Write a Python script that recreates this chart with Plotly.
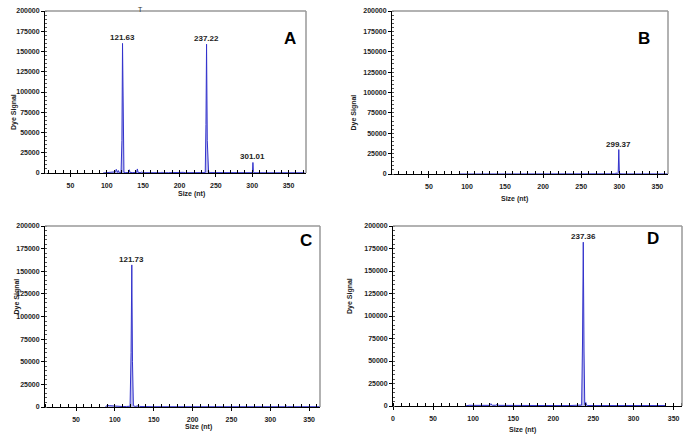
import plotly.graph_objects as go

W, H = 685, 443

# ---------------- data ----------------
a_size = [95, 100, 104, 106, 110, 112, 113, 114, 115, 116, 117, 119.6, 120.8, 121.63, 122.5, 123.6,
          126, 130, 131, 132, 135, 141, 142, 143, 147, 148, 149, 155, 160, 170, 175, 176, 177,
          185, 192, 195, 200, 205, 208, 215, 220, 230, 235.4, 236.4, 237.22, 238.2, 239, 240,
          242, 250, 270, 290, 299.8, 300.4, 301.01, 301.6, 302.4, 310, 330, 350, 372]
a_signal = [0, 300, 900, 300, 500, 1500, 4500, 1200, 600, 3000, 700, 500, 40000, 160000, 30000, 800,
            500, 600, 4000, 700, 500, 600, 5000, 800, 400, 1500, 400, 500, 400, 400, 300, 1300, 300,
            400, 800, 1000, 1000, 800, 400, 300, 300, 300, 500, 60000, 159000, 40000, 3000, 1200,
            500, 400, 300, 300, 400, 2000, 13000, 2000, 300, 300, 300, 300, 300]

b_size = [90, 120, 150, 200, 250, 260, 280, 290, 295, 296, 297, 298.6, 299.37, 300.1, 300.8, 305,
          330, 364]
b_signal = [0, 100, 100, 100, 100, 300, 100, 100, 200, 1500, 300, 2000, 30000, 2000, 200, 100,
            100, 100]

c_size = [88, 90, 93, 96, 100, 110, 115, 119.5, 120.8, 121.73, 122.6, 123.8, 126, 130, 131, 132,
          140, 150, 200, 250, 300, 318, 320, 322, 340, 364]
c_signal = [0, 2000, 1500, 1200, 800, 500, 600, 800, 60000, 157000, 50000, 1500, 600, 700, 1500,
            600, 400, 300, 300, 300, 300, 300, 1500, 300, 300, 300]

d_size = [90, 95, 100, 110, 120, 122, 124, 128, 130, 132, 140, 160, 180, 200, 220, 230, 235.3,
          236.4, 237.36, 238.3, 239.2, 240.5, 241.5, 243, 250, 270, 280, 282, 300, 320, 340]
d_signal = [0, 800, 700, 600, 700, 2500, 800, 800, 1800, 700, 600, 500, 500, 500, 500, 600, 1000,
            70000, 182000, 60000, 1500, 4000, 1000, 500, 500, 500, 1000, 500, 500, 500, 500]

peak_labels = {
    "A": [(121.63, 160000, "121.63"), (237.22, 159000, "237.22"), (301.01, 13000, "301.01")],
    "B": [(299.37, 30000, "299.37")],
    "C": [(121.73, 157000, "121.73")],
    "D": [(237.36, 182000, "237.36")],
}

y_ticks = [0, 25000, 50000, 75000, 100000, 125000, 150000, 175000, 200000]
y_tick_text = ["0", "25000", "50000", "75000", "100000", "125000", "150000", "175000", "200000"]
x_ticks_abc = [50, 100, 150, 200, 250, 300, 350]
x_ticks_d = [0, 50, 100, 150, 200, 250, 300, 350]

# ---------------- layout geometry (pixels) ----------------
panels = {
    "A": dict(x=(45, 306), y=(11, 173), xr=[15, 374], ticks=x_ticks_abc,
              data=(a_size, a_signal), ylab_x=8, xlab_y=194, letter=(290, 27)),
    "B": dict(x=(392, 668), y=(11, 174), xr=[1.5, 364], ticks=x_ticks_abc,
              data=(b_size, b_signal), ylab_x=353, xlab_y=199, letter=(652, 27)),
    "C": dict(x=(45, 320), y=(226, 407), xr=[10, 364], ticks=x_ticks_abc,
              data=(c_size, c_signal), ylab_x=10, xlab_y=433, letter=(306, 240)),
    "D": dict(x=(393, 682), y=(226, 406), xr=[0, 360.5], ticks=x_ticks_d,
              data=(d_size, d_signal), ylab_x=350, xlab_y=436, letter=(661, 239)),
}

FONT = "Liberation Sans, Arial, sans-serif"
LINE = "#3333cc"
FILL = "rgba(110,110,215,0.45)"

fig = go.Figure()
layout = dict(width=W, height=H, margin=dict(l=0, r=0, t=0, b=0, autoexpand=False),
              paper_bgcolor="white", plot_bgcolor="white", showlegend=False,
              font=dict(family=FONT, size=7, color="#222"))
annotations = []
shapes = []

for i, (name, p) in enumerate(panels.items(), start=1):
    sfx = "" if i == 1 else str(i)
    xs, ys = p["data"]
    fig.add_trace(go.Scatter(x=xs, y=ys, mode="lines", line=dict(color=LINE, width=1),
                             fill="tozeroy", fillcolor=FILL,
                             xaxis="x" + sfx, yaxis="y" + sfx, hoverinfo="skip"))
    x0, x1 = p["x"]
    y0, y1 = p["y"]
    layout["xaxis" + sfx] = dict(
        domain=[x0 / W, x1 / W], anchor="y" + sfx, range=p["xr"], automargin=False,
        tickmode="array", tickvals=p["ticks"], ticks="outside", ticklen=3,
        ticklabelstandoff=3,
        tickcolor="#000", showline=True, linecolor="#000", linewidth=1,
        showgrid=False, zeroline=False,
        tickfont=dict(family=FONT, size=7, color="#222", weight="bold"),
        minor=dict(dtick=10, tick0=0, ticks="inside", ticklen=3, tickcolor="#000",
                   showgrid=False),
    )
    layout["yaxis" + sfx] = dict(
        domain=[1 - y1 / H, 1 - y0 / H], anchor="x" + sfx, range=[0, 200000], automargin=False,
        tickmode="array", tickvals=y_ticks, ticktext=y_tick_text, ticks="outside", ticklen=3,
        tickcolor="#000", showline=True, linecolor="#000", linewidth=1,
        showgrid=False, zeroline=False,
        tickfont=dict(family=FONT, size=7, color="#222", weight="bold"),
        minor=dict(dtick=5000, tick0=0, ticks="inside", ticklen=2, tickcolor="#555",
                   showgrid=False),
    )
    xr = "x" + sfx
    yr = "y" + sfx
    # gray frame on top and right
    shapes.append(dict(type="line", xref=xr + " domain", yref=yr + " domain",
                       x0=0, x1=1, y0=1, y1=1, line=dict(color="#999", width=1.5)))
    shapes.append(dict(type="line", xref=xr + " domain", yref=yr + " domain",
                       x0=1, x1=1, y0=0, y1=1, line=dict(color="#999", width=1.5)))
    # axis titles
    annotations.append(dict(text="<b>Dye Signal</b>", xref="paper", yref="paper",
                            x=p["ylab_x"] / W, y=1 - (y0 + y1) / 2 / H, textangle=-90,
                            showarrow=False, font=dict(family=FONT, size=7, color="#222")))
    annotations.append(dict(text="<b>Size (nt)</b>", xref="paper", yref="paper",
                            x=(x0 + x1) / 2 / W, y=1 - p["xlab_y"] / H,
                            showarrow=False, font=dict(family=FONT, size=7, color="#222")))
    # panel letter
    annotations.append(dict(text="<b>%s</b>" % name, xref="paper", yref="paper",
                            x=p["letter"][0] / W, y=1 - p["letter"][1] / H,
                            showarrow=False, font=dict(family=FONT, size=17, color="#000")))
    # peak labels
    for px, py, lab in peak_labels[name]:
        annotations.append(dict(text="<b>%s</b>" % lab, x=px, y=py, xref=xr, yref=yr,
                                yanchor="bottom", yshift=-1, showarrow=False,
                                font=dict(family=FONT, size=8, color="#222")))

annotations.append(dict(text="T", xref="paper", yref="paper", x=136 / W, y=1 - 4 / H,
                        showarrow=False, font=dict(family=FONT, size=7, color="#333")))

layout["annotations"] = annotations
layout["shapes"] = shapes
fig.update_layout(**layout)
fig.write_html("out.html", config={"displayModeBar": False},
               post_script="document.body.style.margin='0';document.body.style.padding='0';")
